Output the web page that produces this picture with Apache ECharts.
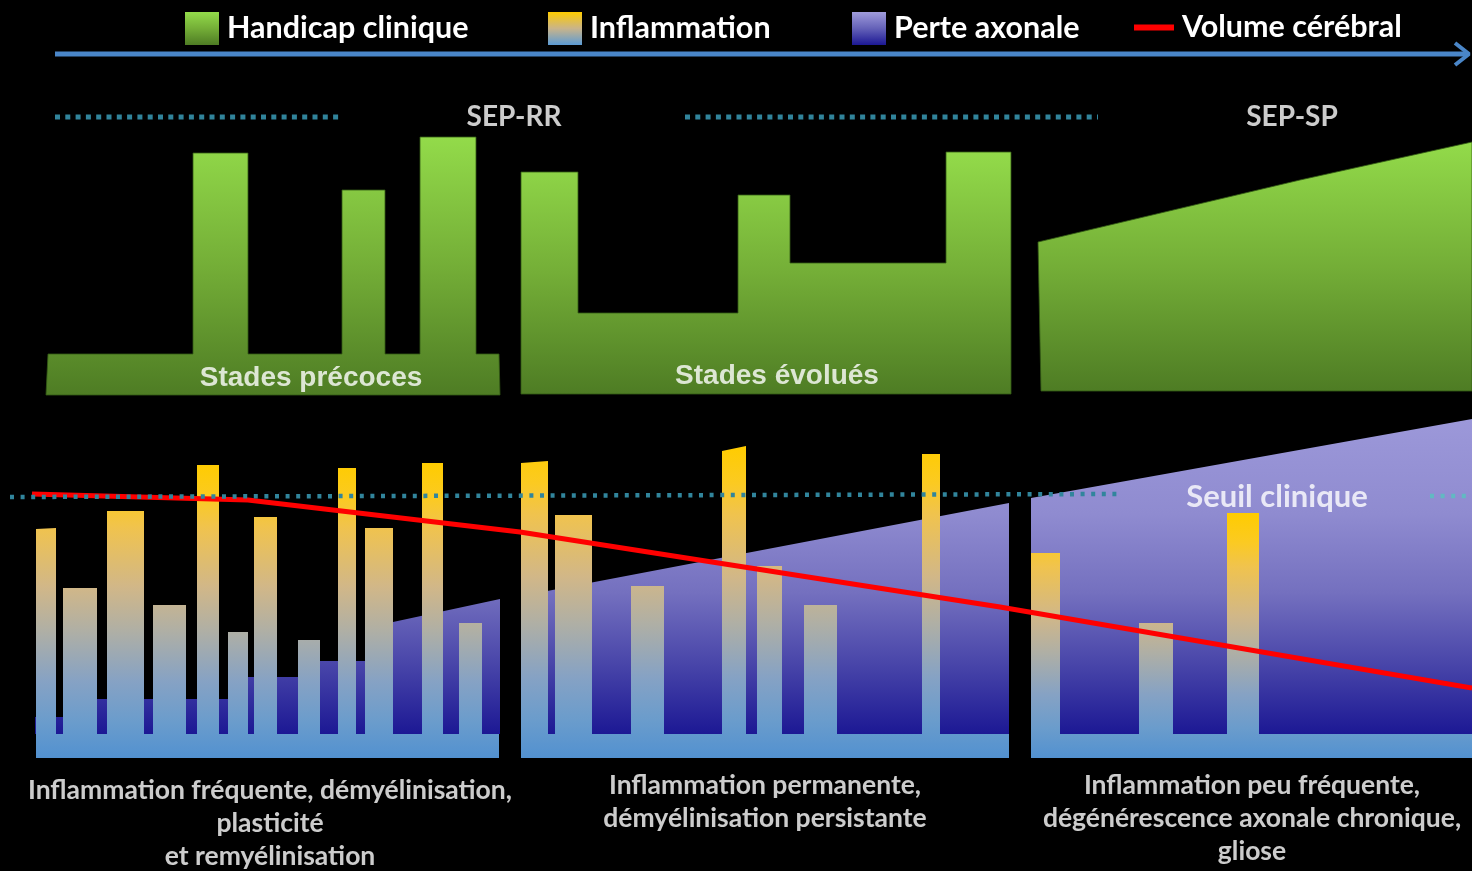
<!DOCTYPE html>
<html><head><meta charset="utf-8">
<script src="https://cdn.jsdelivr.net/npm/echarts@6/dist/echarts.min.js"></script>
<style>html,body{margin:0;padding:0;background:#000}#c{width:1472px;height:871px}</style>
</head><body><div id="c"></div>
<script>
// Handicap clinique outlines
const handicapEarly = [[46,395],[48,354],[193,354],[193,153],[248,153],[248,354],[342,354],[342,190],[385,190],[385,354],[420,354],[420,137],[476,137],[476,354],[499,354],[500,395]];
const handicapLate = [[521,394],[521,172],[578,172],[578,313],[738,313],[738,195],[790,195],[790,263],[946,263],[946,152],[1011,152],[1011,394]];
const handicapSP = [[1041,391],[1038,242],[1300,180],[1472,142],[1472,391]];

// Inflammation bars: [start, end, top at start, top at end]
const inflamEarly = [[36,56,529,528],[63,97,588,588],[107,144,511,511],[153,186,605,605],[197,219,465,465],[228,248,632,632],[254,277,517,517],[298,320,640,640],[338,356,468,468],[365,393,528,528],[422,443,463,463],[459,482,623,623]];
const inflamLate = [[521,548,463,461],[555,592,515,515],[631,664,586,586],[722,746,451,446],[757,782,566,566],[804,837,605,605],[922,940,454,454]];
const inflamSP = [[1031,1060,553,553],[1139,1173,623,623],[1227,1259,513,513]];
const inflamBaseRanges = [[36,499],[521,1009],[1031,1472]];
const inflamBaseLevel = [734, 758];

// Perte axonale outlines
const axonEarly = [[35,734],[35,717],[80,717],[80,699],[248,699],[248,677],[320,677],[320,661],[393,661],[393,622],[500,599],[500,734]];
const axonLate = [[521,734],[521,596],[1009,503],[1009,734]];
const axonSP = [[1031,734],[1031,498],[1472,419],[1472,734]];

// Volume cérébral
const brainVolume = [[32,494],[248,500],[520,532],[1000,607],[1472,688]];

// Seuil clinique and phase guides
const thresholdLeft = [[10,497],[1121,494]];
const thresholdRight = [[1430,496],[1472,496]];
const phaseLineRR = [[55,117],[342,117]];
const phaseLineSP = [[685,117],[1098,117]];
const timeArrow = [[55,54],[1467,54]];
const timeArrowHead = [[1455,43],[1469,54],[1455,65]];

// Texts
const legendNames = ['Handicap clinique','Inflammation','Perte axonale','Volume cérébral'];
const phaseLabels = ['SEP-RR','SEP-SP'];
const stageLabels = ['Stades précoces','Stades évolués'];
const thresholdLabel = 'Seuil clinique';
const panelNotes = [
  'Inflammation fréquente, démyélinisation,\nplasticité\net remyélinisation',
  'Inflammation permanente,\ndémyélinisation persistante',
  'Inflammation peu fréquente,\ndégénérescence axonale chronique,\ngliose'
];

// ---- Build ----
const G = echarts.graphic.LinearGradient;
const greenGrad = () => new G(0,0,0,1,[{offset:0,color:'#93DB4A'},{offset:0.5,color:'#74AE37'},{offset:1,color:'#4E7C24'}]);
const inflamGrad = () => new G(0,0,0,1,[
  {offset:0,color:'#FFCC00'},{offset:0.12,color:'#FBCA22'},{offset:0.22,color:'#F0C34E'},
  {offset:0.42,color:'#D1B788'},{offset:0.57,color:'#AFAFA5'},{offset:0.74,color:'#86A2C4'},
  {offset:0.88,color:'#6A9CCC'},{offset:1,color:'#5291D0'}]);
const axonStops = [{offset:0,color:'#9C98D9'},{offset:0.3,color:'#8F8BD0'},{offset:0.55,color:'#7470BF'},{offset:0.8,color:'#4441A7'},{offset:1,color:'#1C1894'}];
const axonLegendGrad = () => new G(0,0,0,1,[{offset:0,color:'#A09CDB'},{offset:0.5,color:'#6461B8'},{offset:1,color:'#1C1894'}]);
const inflamLegendGrad = () => new G(0,0,0,1,[{offset:0,color:'#FFCC00'},{offset:0.5,color:'#C9B48A'},{offset:1,color:'#5B9BD5'}]);

function inflamPolygon(bars, range) {
  const [x0, x1] = range;
  const [bt, bb] = inflamBaseLevel;
  const pts = [[x0, bb], [x0, bt]];
  bars.forEach(([a, b, ta, tb]) => { pts.push([a, bt], [a, ta], [b, tb], [b, bt]); });
  pts.push([x1, bt], [x1, bb]);
  return pts;
}
const inflamShapes = [
  inflamPolygon(inflamEarly, inflamBaseRanges[0]),
  inflamPolygon(inflamLate, inflamBaseRanges[1]),
  inflamPolygon(inflamSP, inflamBaseRanges[2])
];

function polySeries(name, shapes, fillFn, z, stroke, legendColor) {
  return {
    type: 'custom', name, z, silent: true, animation: false, clip: false,
    coordinateSystem: 'cartesian2d',
    itemStyle: { color: legendColor },
    data: shapes.map((s, i) => [s[0][0], s[0][1], i]),
    encode: { x: 0, y: 1 },
    renderItem: (params, api) => {
      const pts = shapes[params.dataIndex].map(p => api.coord(p));
      return { type: 'polygon', shape: { points: pts },
        style: { fill: fillFn(api), stroke: stroke || null, lineWidth: stroke ? 1 : 0 } };
    }
  };
}

function lineSeries(data, color, width, type, z, name) {
  return { type: 'line', name, data, z, silent: true, animation: false, symbol: 'none',
    color, lineStyle: { color, width, type: type || 'solid', cap: 'butt' } };
}

const font = 'Lato';
const legendCommon = { orient: 'horizontal', padding: 0, itemGap: 0, selectedMode: false, icon: 'rect',
  itemWidth: 34, itemHeight: 33,
  textStyle: { color: '#fff', fontSize: 30.5, fontWeight: 'bold', fontFamily: font, padding: [0, 0, 0, 3] } };

const lbl = (fontSize, extra) => Object.assign({ show: true, position: 'inside', formatter: '{b}', color: '#fff',
  fontWeight: 'bold', fontFamily: font, fontSize, align: 'center', verticalAlign: 'middle' }, extra || {});

const annotations = [
  { value: [514, 117], name: phaseLabels[0], label: lbl(28) },
  { value: [1292, 117], name: phaseLabels[1], label: lbl(28) },
  { value: [311, 378], name: stageLabels[0], label: lbl(28, { fontFamily: 'Liberation Sans' }) },
  { value: [777, 376], name: stageLabels[1], label: lbl(28, { fontFamily: 'Liberation Sans' }) },
  { value: [1277, 497], name: thresholdLabel, label: lbl(31) },
  { value: [270, 823], name: panelNotes[0], label: lbl(26.5, { lineHeight: 33 }) },
  { value: [765, 802], name: panelNotes[1], label: lbl(26.5, { lineHeight: 33 }) },
  { value: [1252, 818], name: panelNotes[2], label: lbl(26.5, { lineHeight: 33 }) }
];

const chart = echarts.init(document.getElementById('c'), null, { renderer: 'canvas' });
chart.setOption({
  backgroundColor: '#000',
  animation: false,
  grid: { left: 0, right: 0, top: 0, bottom: 0 },
  xAxis: { type: 'value', min: 0, max: 1472, show: false },
  yAxis: { type: 'value', min: 0, max: 871, inverse: true, show: false },
  legend: [
    Object.assign({}, legendCommon, { left: 185, top: 12, data: [{ name: legendNames[0], itemStyle: { color: greenGrad() } }] }),
    Object.assign({}, legendCommon, { left: 548, top: 12, data: [{ name: legendNames[1], itemStyle: { color: inflamLegendGrad() } }] }),
    Object.assign({}, legendCommon, { left: 852, top: 12, data: [{ name: legendNames[2], itemStyle: { color: axonLegendGrad() } }] }),
    Object.assign({}, legendCommon, { left: 1134, top: 12, itemWidth: 40, itemHeight: 6, data: [{ name: legendNames[3], itemStyle: { color: '#FF0000' } }] })
  ],
  series: [
    lineSeries(timeArrow, '#4A86C8', 5, 'solid', 1),
    lineSeries(timeArrowHead, '#4A86C8', 4, 'solid', 1),
    lineSeries(phaseLineRR, '#31849B', 5, [5, 5.3], 1),
    lineSeries(phaseLineSP, '#31849B', 5, [5, 5.3], 1),
    polySeries(legendNames[0], [handicapEarly, handicapLate, handicapSP], () => greenGrad(), 2, 'rgba(50,90,20,0.8)', greenGrad()),
    polySeries(legendNames[2], [axonEarly, axonLate, axonSP], (api) => {
      const p0 = api.coord([0, 420]), p1 = api.coord([0, 734]);
      return new G(0, p0[1], 0, p1[1], axonStops, true);
    }, 3, null, axonLegendGrad()),
    polySeries(legendNames[1], inflamShapes, () => inflamGrad(), 4, null, inflamLegendGrad()),
    lineSeries(brainVolume, '#FF0000', 5, 'solid', 5, legendNames[3]),
    lineSeries(thresholdLeft, '#31859C', 4.5, [4, 6.6], 6),
    lineSeries(thresholdRight, '#62B9C2', 4.5, [4, 6.6], 6),
    { type: 'scatter', z: 7, silent: true, animation: false, symbolSize: 1,
      itemStyle: { color: 'rgba(0,0,0,0)' }, data: annotations }
  ]
});
</script></body></html>
